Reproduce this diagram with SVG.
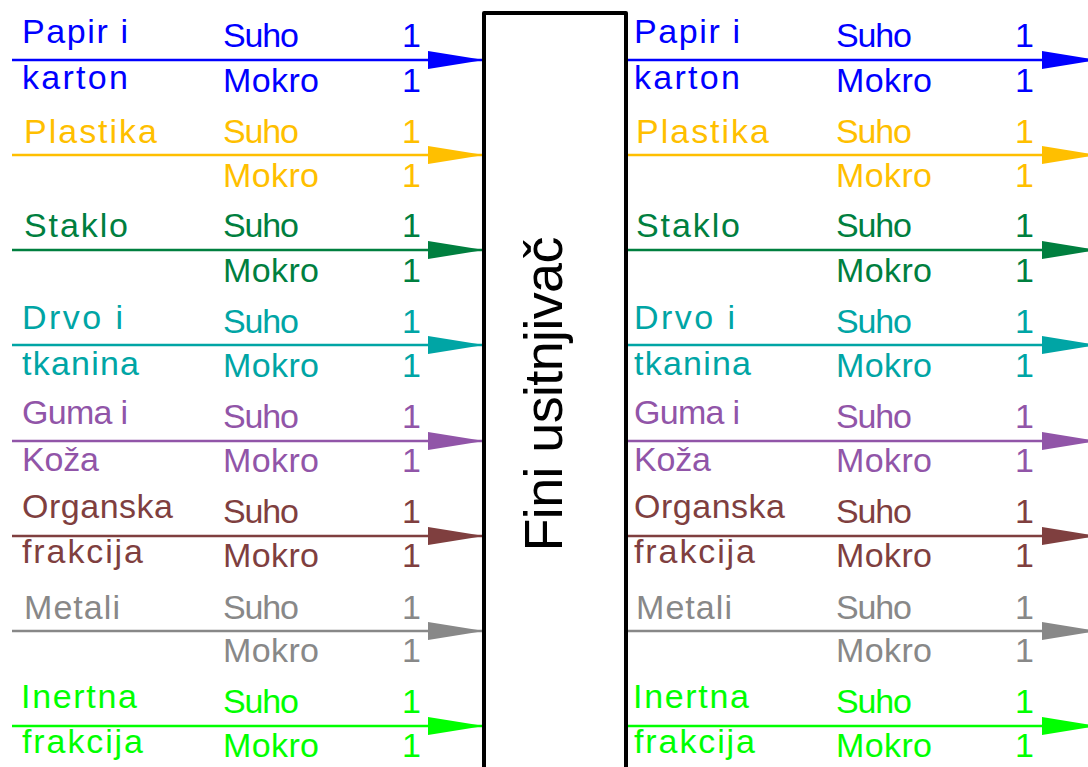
<svg xmlns="http://www.w3.org/2000/svg" width="1088" height="767" viewBox="0 0 1088 767">
<style>
text{font-family:"Liberation Sans",Arial,sans-serif;font-size:34px;stroke:none}
.big{font-size:54px;fill:#000}
.ln{stroke-width:2.5;fill:none}
.one{text-anchor:end}
.c1{fill:#0000FF;stroke:#0000FF}
.c2{fill:#FFBF00;stroke:#FFBF00}
.c3{fill:#007F3F;stroke:#007F3F}
.c4{fill:#00A5A5;stroke:#00A5A5}
.c5{fill:#9155A8;stroke:#9155A8}
.c6{fill:#7F3F3F;stroke:#7F3F3F}
.c7{fill:#888888;stroke:#888888}
.c8{fill:#00FF00;stroke:#00FF00}
</style>
<defs>
<marker id="a1" markerUnits="userSpaceOnUse" markerWidth="56" markerHeight="18" refX="56" refY="9" orient="auto"><path d="M0,0L56,9L0,18z" fill="#0000FF"/></marker>
<marker id="a2" markerUnits="userSpaceOnUse" markerWidth="56" markerHeight="18" refX="56" refY="9" orient="auto"><path d="M0,0L56,9L0,18z" fill="#FFBF00"/></marker>
<marker id="a3" markerUnits="userSpaceOnUse" markerWidth="56" markerHeight="18" refX="56" refY="9" orient="auto"><path d="M0,0L56,9L0,18z" fill="#007F3F"/></marker>
<marker id="a4" markerUnits="userSpaceOnUse" markerWidth="56" markerHeight="18" refX="56" refY="9" orient="auto"><path d="M0,0L56,9L0,18z" fill="#00A5A5"/></marker>
<marker id="a5" markerUnits="userSpaceOnUse" markerWidth="56" markerHeight="18" refX="56" refY="9" orient="auto"><path d="M0,0L56,9L0,18z" fill="#9155A8"/></marker>
<marker id="a6" markerUnits="userSpaceOnUse" markerWidth="56" markerHeight="18" refX="56" refY="9" orient="auto"><path d="M0,0L56,9L0,18z" fill="#7F3F3F"/></marker>
<marker id="a7" markerUnits="userSpaceOnUse" markerWidth="56" markerHeight="18" refX="56" refY="9" orient="auto"><path d="M0,0L56,9L0,18z" fill="#888888"/></marker>
<marker id="a8" markerUnits="userSpaceOnUse" markerWidth="56" markerHeight="18" refX="56" refY="9" orient="auto"><path d="M0,0L56,9L0,18z" fill="#00FF00"/></marker>
</defs>
<rect width="1088" height="767" fill="#FFFFFF"/>

<g id="connectors">
<path class="ln c1" d="M12,60H484" marker-end="url(#a1)"/>
<path class="ln c1" d="M626,60H1098" marker-end="url(#a1)"/>
<path class="ln c2" d="M12,155H484" marker-end="url(#a2)"/>
<path class="ln c2" d="M626,155H1098" marker-end="url(#a2)"/>
<path class="ln c3" d="M12,250H484" marker-end="url(#a3)"/>
<path class="ln c3" d="M626,250H1098" marker-end="url(#a3)"/>
<path class="ln c4" d="M12,345H484" marker-end="url(#a4)"/>
<path class="ln c4" d="M626,345H1098" marker-end="url(#a4)"/>
<path class="ln c5" d="M12,441H484" marker-end="url(#a5)"/>
<path class="ln c5" d="M626,441H1098" marker-end="url(#a5)"/>
<path class="ln c6" d="M12,536H484" marker-end="url(#a6)"/>
<path class="ln c6" d="M626,536H1098" marker-end="url(#a6)"/>
<path class="ln c7" d="M12,631H484" marker-end="url(#a7)"/>
<path class="ln c7" d="M626,631H1098" marker-end="url(#a7)"/>
<path class="ln c8" d="M12,726H484" marker-end="url(#a8)"/>
<path class="ln c8" d="M626,726H1098" marker-end="url(#a8)"/>
</g>

<g id="shredder">
<path d="M484,780V13H626V780" fill="none" stroke="#000" stroke-width="4" stroke-linejoin="round"/>
<text class="big" transform="translate(562,394) rotate(-90)" text-anchor="middle" textLength="315" lengthAdjust="spacing">Fini usitnjivač</text>
</g>

<g id="flow-papir" class="c1">
<text x="22" y="43" textLength="106" lengthAdjust="spacing">Papir i</text>
<text x="22" y="89" textLength="106" lengthAdjust="spacing">karton</text>
<text x="223" y="47" textLength="76" lengthAdjust="spacing">Suho</text>
<text x="223" y="92" textLength="96" lengthAdjust="spacing">Mokro</text>
<text class="one" x="421" y="47">1</text>
<text class="one" x="421" y="92">1</text>
<text x="634" y="43" textLength="106" lengthAdjust="spacing">Papir i</text>
<text x="634" y="89" textLength="106" lengthAdjust="spacing">karton</text>
<text x="836" y="47" textLength="76" lengthAdjust="spacing">Suho</text>
<text x="836" y="92" textLength="96" lengthAdjust="spacing">Mokro</text>
<text class="one" x="1034" y="47">1</text>
<text class="one" x="1034" y="92">1</text>
</g>

<g id="flow-plastika" class="c2">
<text x="24" y="143" textLength="133" lengthAdjust="spacing">Plastika</text>
<text x="223" y="143" textLength="76" lengthAdjust="spacing">Suho</text>
<text x="223" y="187" textLength="96" lengthAdjust="spacing">Mokro</text>
<text class="one" x="421" y="143">1</text>
<text class="one" x="421" y="187">1</text>
<text x="636" y="143" textLength="133" lengthAdjust="spacing">Plastika</text>
<text x="836" y="143" textLength="76" lengthAdjust="spacing">Suho</text>
<text x="836" y="187" textLength="96" lengthAdjust="spacing">Mokro</text>
<text class="one" x="1034" y="143">1</text>
<text class="one" x="1034" y="187">1</text>
</g>

<g id="flow-staklo" class="c3">
<text x="24" y="237" textLength="104" lengthAdjust="spacing">Staklo</text>
<text x="223" y="237" textLength="76" lengthAdjust="spacing">Suho</text>
<text x="223" y="282" textLength="96" lengthAdjust="spacing">Mokro</text>
<text class="one" x="421" y="237">1</text>
<text class="one" x="421" y="282">1</text>
<text x="636" y="237" textLength="104" lengthAdjust="spacing">Staklo</text>
<text x="836" y="237" textLength="76" lengthAdjust="spacing">Suho</text>
<text x="836" y="282" textLength="96" lengthAdjust="spacing">Mokro</text>
<text class="one" x="1034" y="237">1</text>
<text class="one" x="1034" y="282">1</text>
</g>

<g id="flow-drvo" class="c4">
<text x="22" y="329" textLength="101" lengthAdjust="spacing">Drvo i</text>
<text x="22" y="375" textLength="117" lengthAdjust="spacing">tkanina</text>
<text x="223" y="333" textLength="76" lengthAdjust="spacing">Suho</text>
<text x="223" y="377" textLength="96" lengthAdjust="spacing">Mokro</text>
<text class="one" x="421" y="333">1</text>
<text class="one" x="421" y="377">1</text>
<text x="634" y="329" textLength="101" lengthAdjust="spacing">Drvo i</text>
<text x="634" y="375" textLength="117" lengthAdjust="spacing">tkanina</text>
<text x="836" y="333" textLength="76" lengthAdjust="spacing">Suho</text>
<text x="836" y="377" textLength="96" lengthAdjust="spacing">Mokro</text>
<text class="one" x="1034" y="333">1</text>
<text class="one" x="1034" y="377">1</text>
</g>

<g id="flow-guma" class="c5">
<text x="22" y="424" textLength="106" lengthAdjust="spacing">Guma i</text>
<text x="22" y="471" textLength="77" lengthAdjust="spacing">Koža</text>
<text x="223" y="428" textLength="76" lengthAdjust="spacing">Suho</text>
<text x="223" y="472" textLength="96" lengthAdjust="spacing">Mokro</text>
<text class="one" x="421" y="428">1</text>
<text class="one" x="421" y="472">1</text>
<text x="634" y="424" textLength="106" lengthAdjust="spacing">Guma i</text>
<text x="634" y="471" textLength="77" lengthAdjust="spacing">Koža</text>
<text x="836" y="428" textLength="76" lengthAdjust="spacing">Suho</text>
<text x="836" y="472" textLength="96" lengthAdjust="spacing">Mokro</text>
<text class="one" x="1034" y="428">1</text>
<text class="one" x="1034" y="472">1</text>
</g>

<g id="flow-organska" class="c6">
<text x="22" y="518" textLength="151" lengthAdjust="spacing">Organska</text>
<text x="22" y="563" textLength="121" lengthAdjust="spacing">frakcija</text>
<text x="223" y="523" textLength="76" lengthAdjust="spacing">Suho</text>
<text x="223" y="567" textLength="96" lengthAdjust="spacing">Mokro</text>
<text class="one" x="421" y="523">1</text>
<text class="one" x="421" y="567">1</text>
<text x="634" y="518" textLength="151" lengthAdjust="spacing">Organska</text>
<text x="634" y="563" textLength="121" lengthAdjust="spacing">frakcija</text>
<text x="836" y="523" textLength="76" lengthAdjust="spacing">Suho</text>
<text x="836" y="567" textLength="96" lengthAdjust="spacing">Mokro</text>
<text class="one" x="1034" y="523">1</text>
<text class="one" x="1034" y="567">1</text>
</g>

<g id="flow-metali" class="c7">
<text x="24" y="619" textLength="96" lengthAdjust="spacing">Metali</text>
<text x="223" y="619" textLength="76" lengthAdjust="spacing">Suho</text>
<text x="223" y="662" textLength="96" lengthAdjust="spacing">Mokro</text>
<text class="one" x="421" y="619">1</text>
<text class="one" x="421" y="662">1</text>
<text x="636" y="619" textLength="96" lengthAdjust="spacing">Metali</text>
<text x="836" y="619" textLength="76" lengthAdjust="spacing">Suho</text>
<text x="836" y="662" textLength="96" lengthAdjust="spacing">Mokro</text>
<text class="one" x="1034" y="619">1</text>
<text class="one" x="1034" y="662">1</text>
</g>

<g id="flow-inertna" class="c8">
<text x="21" y="708" textLength="116" lengthAdjust="spacing">Inertna</text>
<text x="22" y="753" textLength="121" lengthAdjust="spacing">frakcija</text>
<text x="223" y="713" textLength="76" lengthAdjust="spacing">Suho</text>
<text x="223" y="757" textLength="96" lengthAdjust="spacing">Mokro</text>
<text class="one" x="421" y="713">1</text>
<text class="one" x="421" y="757">1</text>
<text x="633" y="708" textLength="116" lengthAdjust="spacing">Inertna</text>
<text x="634" y="753" textLength="121" lengthAdjust="spacing">frakcija</text>
<text x="836" y="713" textLength="76" lengthAdjust="spacing">Suho</text>
<text x="836" y="757" textLength="96" lengthAdjust="spacing">Mokro</text>
<text class="one" x="1034" y="713">1</text>
<text class="one" x="1034" y="757">1</text>
</g>
</svg>
